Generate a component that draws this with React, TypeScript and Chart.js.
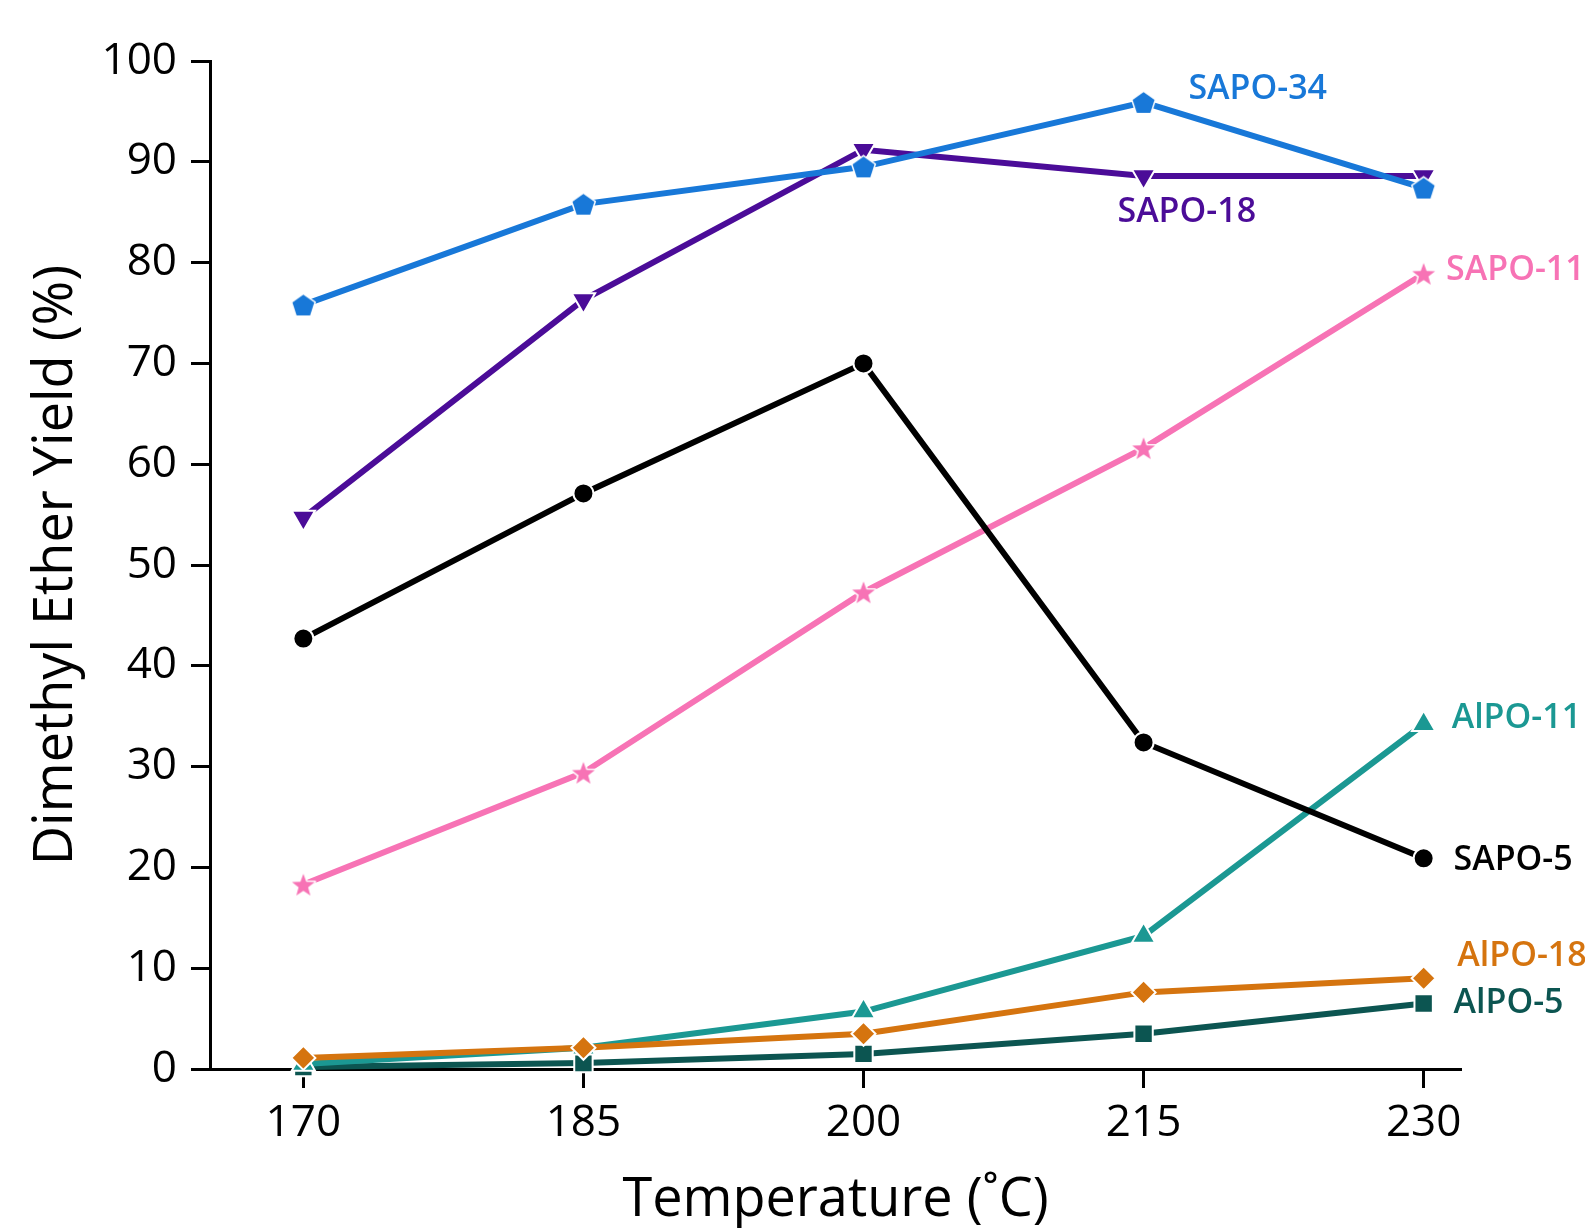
import React, { useEffect, useRef } from "react";
import { Chart, registerables } from "chart.js";

Chart.register(...registerables);

// ---- data ----
const temperatures = [170, 185, 200, 215, 230];
const xTickValues = [170, 185, 200, 215, 230];
const yTickStep = 10;

const sapo34 = [75.8, 85.8, 89.5, 95.9, 87.4];
const sapo18 = [54.7, 76.3, 91.2, 88.6, 88.6];
const sapo5 = [42.7, 57.1, 70.0, 32.4, 20.9];
const sapo11 = [18.3, 29.4, 47.3, 61.6, 78.9];
const alpo18 = [1.1, 2.1, 3.5, 7.6, 9.0];
const alpo11 = [0.5, 2.1, 5.7, 13.2, 34.2];
const alpo5 = [0.2, 0.6, 1.5, 3.5, 6.5];

const seriesNames = ["SAPO-34", "SAPO-18", "SAPO-5", "SAPO-11", "AlPO-18", "AlPO-11", "AlPO-5"];

// ---- styles ----
const COLORS: Record<string, string> = {
  "SAPO-34": "#1878D8",
  "SAPO-18": "#4B0C98",
  "SAPO-5": "#000000",
  "SAPO-11": "#F773B5",
  "AlPO-18": "#D5740F",
  "AlPO-11": "#1B9893",
  "AlPO-5": "#0C5551",
};

// series label anchors (data units), left-aligned, vertically centred
const labelAnchorX = [217.4, 213.6, 231.6, 231.2, 231.8, 231.5, 231.6];
const labelAnchorY = [97.2, 85.0, 20.7, 79.2, 11.2, 34.8, 6.55];

function makePentagon(color: string, r: number) {
  const pad = 3;
  const size = Math.ceil(2 * (r + pad));
  const c = document.createElement("canvas");
  c.width = size;
  c.height = size;
  const g = c.getContext("2d")!;
  const cx = size / 2;
  const cy = size / 2 + r * 0.1;
  g.beginPath();
  for (let i = 0; i < 5; i++) {
    const a = -Math.PI / 2 + (i * 2 * Math.PI) / 5;
    const px = cx + Math.cos(a) * r;
    const py = cy + Math.sin(a) * r;
    if (i === 0) g.moveTo(px, py);
    else g.lineTo(px, py);
  }
  g.closePath();
  g.lineWidth = 3;
  g.strokeStyle = "#ffffff";
  g.stroke();
  g.fillStyle = color;
  g.fill();
  return c;
}

function makeStar(color: string, rOuter: number, rInner: number) {
  const pad = 3;
  const size = Math.ceil(2 * (rOuter + pad));
  const c = document.createElement("canvas");
  c.width = size;
  c.height = size;
  const g = c.getContext("2d")!;
  const cx = size / 2;
  const cy = size / 2 + rOuter * 0.1;
  g.beginPath();
  for (let i = 0; i < 10; i++) {
    const a = -Math.PI / 2 + (i * Math.PI) / 5;
    const rr = i % 2 === 0 ? rOuter : rInner;
    const px = cx + Math.cos(a) * rr;
    const py = cy + Math.sin(a) * rr;
    if (i === 0) g.moveTo(px, py);
    else g.lineTo(px, py);
  }
  g.closePath();
  g.lineWidth = 3;
  g.strokeStyle = "#ffffff";
  g.lineJoin = "round";
  g.stroke();
  g.fillStyle = color;
  g.fill();
  return c;
}

export default function App() {
  const canvasRef = useRef<HTMLCanvasElement | null>(null);

  useEffect(() => {
    if (!canvasRef.current) return;
    Chart.defaults.font.family = '"Open Sans", "DejaVu Sans", sans-serif';

    const pentagon = makePentagon(COLORS["SAPO-34"], 11.5);
    const star = makeStar(COLORS["SAPO-11"], 12, 5);

    const seriesValues = [sapo34, sapo18, sapo5, sapo11, alpo18, alpo11, alpo5];
    const pointStyles: any[] = [pentagon, "triangle", "circle", star, "rectRot", "triangle", "rect"];
    const pointRadii = [11, 13.5, 10, 11, 12, 13.5, 13];
    const pointRotations = [0, 180, 0, 0, 0, 0, 0];

    const datasets = seriesNames.map((name, i) => ({
      label: name,
      data: temperatures.map((t, j) => ({ x: t, y: seriesValues[i][j] })),
      borderColor: COLORS[name],
      backgroundColor: COLORS[name],
      pointBackgroundColor: COLORS[name],
      pointBorderColor: "#ffffff",
      pointBorderWidth: 2,
      borderWidth: 6,
      pointStyle: pointStyles[i],
      pointRadius: pointRadii[i],
      pointRotation: pointRotations[i],
      tension: 0,
      clip: false as any,
    }));

    const labelPlugin = {
      id: "seriesLabels",
      afterDatasetsDraw(chart: any) {
        const { ctx, scales } = chart;
        const xs = scales.x;
        const ys = scales.y;
        ctx.save();
        ctx.font = '600 34px "Open Sans", sans-serif';
        ctx.textAlign = "left";
        ctx.textBaseline = "middle";
        seriesNames.forEach((name, i) => {
          ctx.fillStyle = COLORS[name];
          ctx.fillText(name, xs.getPixelForValue(labelAnchorX[i]), ys.getPixelForValue(labelAnchorY[i]));
        });
        ctx.restore();
      },
    };

    const chart = new Chart(canvasRef.current, {
      type: "line",
      data: { datasets },
      options: {
        animation: false,
        responsive: false,
        maintainAspectRatio: false,
        layout: { padding: { top: 61, right: 124, bottom: 0, left: 0 } },
        plugins: {
          legend: { display: false },
          tooltip: { enabled: false },
        },
        scales: {
          x: {
            type: "linear",
            min: 165,
            max: 232,
            afterBuildTicks: (scale: any) => {
              scale.ticks = xTickValues.map((v) => ({ value: v }));
            },
            afterFit: (scale: any) => {
              scale.height = 159;
            },
            grid: {
              display: true,
              drawOnChartArea: false,
              drawTicks: true,
              tickLength: 19,
              tickWidth: 3,
              tickColor: "#000",
            },
            border: { display: true, color: "#000", width: 3 },
            ticks: {
              autoSkip: false,
              maxRotation: 0,
              padding: 9,
              color: "#000",
              font: { size: 44 },
            },
            title: {
              display: true,
              text: "Temperature (˚C)",
              color: "#000",
              font: { size: 54, lineHeight: 1 },
              padding: { top: 0, bottom: 0 },
            },
          },
          y: {
            type: "linear",
            min: 0,
            max: 100,
            afterFit: (scale: any) => {
              scale.width = 210;
            },
            grid: {
              display: true,
              drawOnChartArea: false,
              drawTicks: true,
              tickLength: 19,
              tickWidth: 3,
              tickColor: "#000",
            },
            border: { display: true, color: "#000", width: 3 },
            ticks: {
              stepSize: yTickStep,
              padding: 14,
              color: "#000",
              font: { size: 44 },
            },
            title: {
              display: true,
              text: "Dimethyl Ether Yield (%)",
              color: "#000",
              font: { size: 54, lineHeight: 1 },
              padding: { top: 30, bottom: 0 },
            },
          },
        },
      },
      plugins: [labelPlugin],
    });

    return () => chart.destroy();
  }, []);

  return (
    <div style={{ position: "absolute", left: 0, top: 0, width: 1585, height: 1228, background: "#fff" }}>
      <canvas ref={canvasRef} width={1585} height={1228} style={{ width: 1585, height: 1228 }} />
    </div>
  );
}
